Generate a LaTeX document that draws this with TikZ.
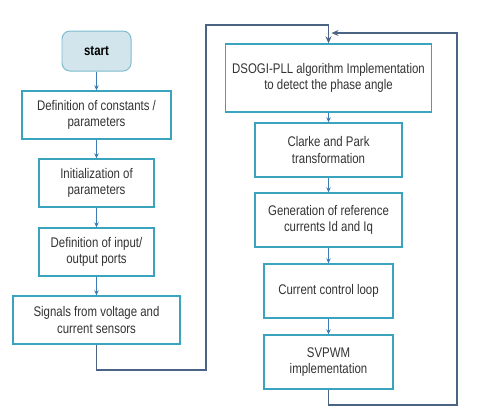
\documentclass[tikz,border=0pt]{standalone}
\usepackage{fontspec}
\setmainfont{Liberation Sans}[FakeStretch=0.82]
\usetikzlibrary{arrows.meta}
\definecolor{boxline}{HTML}{3AA3BE}
\definecolor{startfill}{HTML}{D3E5EC}
\definecolor{startline}{HTML}{7DBBCD}
\definecolor{flowline}{HTML}{3C7DB6}
\definecolor{loopline}{HTML}{4C6483}
\definecolor{txt}{HTML}{333333}
\tikzset{
  stepbox/.style={draw=boxline, line width=1.4pt, fill=white, align=center, text=txt,
    font=\fontsize{14}{16.5}\selectfont},
  startbox/.style={draw=startline, line width=1pt, fill=startfill, rounded corners=8pt,
    text=black, font=\fontsize{14}{16.5}\selectfont\bfseries,
    minimum width=69bp, minimum height=40bp},
  flow/.style={draw=flowline, line width=0.8pt, -{Stealth[length=5pt,width=4.5pt]}},
  loop/.style={draw=loopline, line width=1.4pt, -{Stealth[length=7pt,width=6pt]}},
}
\begin{document}
\begin{tikzpicture}[x=1bp, y=-1bp]
\useasboundingbox (0,0) rectangle (480,418);
% left column
\node[startbox] (start) at (96.5,51) {start};
\node[stepbox, minimum width=149bp, minimum height=48bp] (const) at (96.5,115) {Definition of constants /\\parameters};
\node[stepbox, minimum width=115bp, minimum height=48bp] (init) at (96.5,183) {Initialization of\\parameters};
\node[stepbox, minimum width=115bp, minimum height=48bp] (ports) at (96.5,252) {Definition of input/\\output ports};
\node[stepbox, minimum width=167bp, minimum height=48bp] (sens) at (96.5,320) {Signals from voltage and\\current sensors};
% right column
\node[stepbox, minimum width=206bp, minimum height=68bp] (pll) at (328.5,78) {DSOGI-PLL algorithm Implementation\\to detect the phase angle};
\node[stepbox, minimum width=147bp, minimum height=54bp] (park) at (328.5,150) {Clarke and Park\\transformation};
\node[stepbox, minimum width=147bp, minimum height=54bp] (iref) at (328.5,220) {Generation of reference\\currents Id and Iq};
\node[stepbox, minimum width=129bp, minimum height=54bp] (ctrl) at (328.5,291) {Current control loop};
\node[stepbox, minimum width=129bp, minimum height=54bp] (svm) at (328.5,362) {SVPWM\\implementation};
\coordinate (back) at (331.5,33);
% arrows
\draw[flow] (start) -- (const);
\draw[flow] (const) -- (init);
\draw[flow] (init) -- (ports);
\draw[flow] (ports) -- (sens);
\draw[flow] (pll) -- (park);
\draw[flow] (park) -- (iref);
\draw[flow] (iref) -- (ctrl);
\draw[flow] (ctrl) -- (svm);
\draw[loop] (sens.south) -- (96.5,370) -- (206,370) -- (206,25) -- (328.5,25) -- (pll.north);
\draw[loop] (svm.south) -- (328.5,405) -- (457,405) -- (457,33) -- (back);
\end{tikzpicture}
\end{document}
